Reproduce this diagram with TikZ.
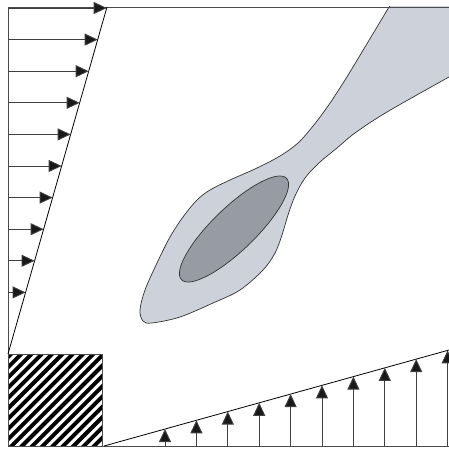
\documentclass[tikz,border=0pt]{standalone}
\usetikzlibrary{arrows.meta}
\definecolor{lightblob}{HTML}{CDD1D9}
\definecolor{darkblob}{HTML}{979CA4}
\begin{document}
\begin{tikzpicture}[x=1pt,y=-1pt,
  frameline/.style={draw=black!70,line width=0.9pt},
  slantline/.style={draw=black,line width=0.8pt},
  loadarrow/.style={draw=black!75,line width=0.9pt,-{Triangle[length=13pt,width=12pt,fill=black!90]}},
  outline/.style={draw=black!80,line width=0.7pt}]
\useasboundingbox (0,0) rectangle (449,449);
\def\blobpts{(392,2) (389,7) (365,47) (345,80) (328,106) (313,126) (298,143) (280,156) (257,168) (230,180) (210,190) (197,200) (183,217) (170,237) (157,263) (145,290) (140,310) (143,321) (152,323) (180,317) (213,303) (240,290) (263,270) (275,253) (282,235) (288,215) (295,196) (305,178) (320,162) (337,148) (355,133) (387,112) (449,77) (455,74)}
% gray blob
\begin{scope}
\clip (8,7) rectangle (449,446);
\fill[lightblob] plot[smooth,tension=0.55] coordinates {\blobpts} -- (460,0) -- cycle;
\draw[outline] plot[smooth,tension=0.55] coordinates {\blobpts};
\end{scope}
\coordinate (ec) at (234,229);
\draw[outline,fill=darkblob,rotate around={44:(ec)}] (ec) ellipse [x radius=73,y radius=21.5];
% hatched square
\begin{scope}
\clip (8,354) rectangle (102,446);
\foreach \k in {-12,...,12}{
  \draw[black,line width=3.9pt] ({8+\k*10.3},460) -- ({8+\k*10.3+120},340);
}
\end{scope}
\draw[black!70,line width=0.8pt] (8,354) rectangle (102,446);
% frame
\draw[frameline] (8,446) -- (8,7) -- (449,7);
\draw[frameline] (8,446) -- (449,446);
% slanted lines
\coordinate (lt) at (107,7);
\coordinate (lb) at (8,354);
\draw[slantline] (lb) -- (lt);
\coordinate (bl) at (104,446);
\coordinate (br) at (449,350);
\draw[slantline] (bl) -- (br);
% left arrows
\foreach \i in {0,...,9}{
  \pgfmathsetmacro{\yy}{8+\i*31.6}
  \pgfmathsetmacro{\xx}{8+(354-\yy)/347*99}
  \draw[loadarrow] (8,\yy) -- (\xx,\yy);
}
% bottom arrows
\foreach \i in {0,...,9}{
  \pgfmathsetmacro{\xx}{165+\i*31.4}
  \pgfmathsetmacro{\yy}{446-(\xx-104)/345*96}
  \draw[loadarrow] (\xx,446) -- (\xx,\yy);
}
\end{tikzpicture}
\end{document}
